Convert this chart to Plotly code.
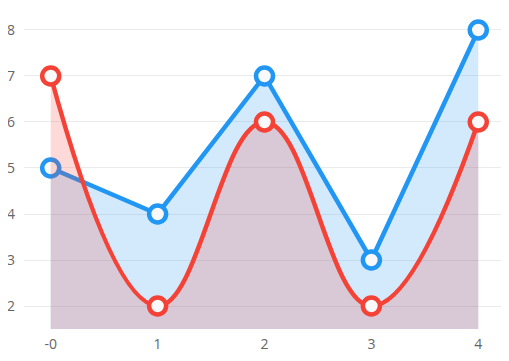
import plotly.graph_objects as go

x_vals = [0, 1, 2, 3, 4]
blue_vals = [5, 4, 7, 3, 8]
red_vals = [7, 2, 6, 2, 6]
x_tick_vals = [0, 1, 2, 3, 4]
x_tick_text = ["-0", "1", "2", "3", "4"]
y_tick_vals = [2, 3, 4, 5, 6, 7, 8]

fig = go.Figure()
fig.add_trace(go.Scatter(
    x=x_vals, y=blue_vals, mode="lines+markers", fill="tozeroy",
    fillcolor="rgba(33,150,243,0.2)",
    line=dict(color="#2196f3", width=4.5, shape="linear"),
    marker=dict(size=17, color="#f9f9f9", line=dict(color="#2196f3", width=4.5)),
    cliponaxis=False, showlegend=False,
))
fig.add_trace(go.Scatter(
    x=x_vals, y=red_vals, mode="lines+markers", fill="tozeroy",
    fillcolor="rgba(244,67,54,0.2)",
    line=dict(color="#f44336", width=4.5, shape="spline", smoothing=1.2),
    marker=dict(size=17, color="#f9f9f9", line=dict(color="#f44336", width=4.5)),
    cliponaxis=False, showlegend=False,
))
fig.update_layout(
    width=509, height=361,
    margin=dict(l=16, r=12, t=0, b=40),
    plot_bgcolor="white", paper_bgcolor="white",
    font=dict(family="Open Sans", size=14, color="#666"),
    xaxis=dict(range=[-0.25, 4.25], tickvals=x_tick_vals, ticktext=x_tick_text,
               showgrid=False, zeroline=False, showline=False, ticks="",
               automargin=False, ticklabelstandoff=5),
    yaxis=dict(range=[1.5, 8.478], tickvals=y_tick_vals, showgrid=True,
               gridcolor="#ebebeb", gridwidth=1, zeroline=False, showline=False, ticks="",
               automargin=False, ticklabelstandoff=8),
)
fig.write_html("out.html")
